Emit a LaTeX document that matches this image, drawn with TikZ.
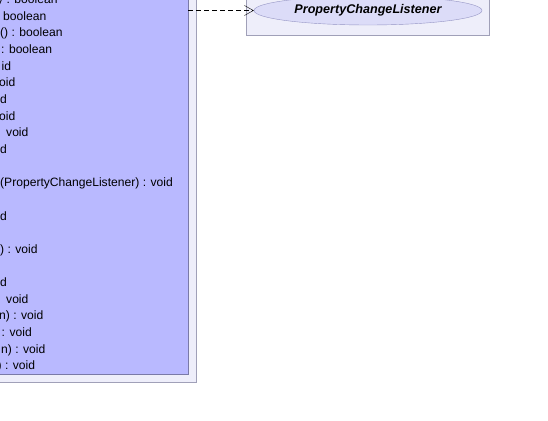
\documentclass[tikz,border=0pt]{standalone}
\usepackage{fontspec}
\setmainfont{Liberation Sans}
\usepackage{xcolor}
\usetikzlibrary{arrows.meta,shapes.geometric}

\definecolor{pkgfill}{HTML}{EEEEFA}
\definecolor{pkgline}{HTML}{A0A0B8}
\definecolor{clsfill}{HTML}{B9B9FF}
\definecolor{clsline}{HTML}{7A7AA8}
\definecolor{ifcfill}{HTML}{DCDCF8}
\definecolor{ifcline}{HTML}{9494C4}

\tikzset{
  member/.style={anchor=base west, inner sep=0pt, font=\fontsize{12.1}{14}\selectfont},
  realize/.style={dashed, dash pattern=on 5pt off 3pt, -{Straight Barb[length=9pt,width=10pt]}}
}

\begin{document}
\begin{tikzpicture}[x=1pt,y=-1pt]
        \useasboundingbox (0,0) rectangle (548,420);
        \clip (0,0) rectangle (548,420);

        % Class package, left side
        \draw[pkgline, fill=pkgfill] (-20,-20) rectangle (196,382);
        \node[draw=clsline, fill=clsfill, inner sep=0pt, minimum width=208pt, minimum height=394pt, anchor=north west]
             (cls) at (-20,-20) {};

        % Members (cut at the left edge)
        \node[member] (m0)  at (-3,3.5)    {y : boolean};
        \node[member] (m1)  at (3,20.2)    {boolean};
        \node[member] (m2)  at (0,36.8)    {() : boolean};
        \node[member] (m3)  at (1,53.5)    {: boolean};
        \node[member] (m4)  at (1.5,70.1)  {id};
        \node[member] (m5)  at (-1,86.8)   {oid};
        \node[member] (m6)  at (0,103.4)   {d};
        \node[member] (m7)  at (-1,120.1)  {oid};
        \node[member] (m8)  at (6,136.7)   {void};
        \node[member] (m9)  at (0,153.4)   {d};
        \node[member] (m11) at (0,186.7)   {(PropertyChangeListener) : void};
        \node[member] (m13) at (0,220.0)   {d};
        \node[member] (m15) at (0,253.3)   {) : void};
        \node[member] (m17) at (0,286.6)   {d};
        \node[member] (m18) at (6,303.2)   {void};
        \node[member] (m19) at (-1,319.9)  {n) : void};
        \node[member] (m20) at (1.5,336.5) {: void};
        \node[member] (m21) at (1,353.2)   {n) : void};
        \node[member] (m22) at (-2.5,369.8) {) : void};

        % Interface package, top right
        \draw[pkgline, fill=pkgfill] (246,-20) rectangle (489,35);
        \node[ellipse, draw=ifcline, fill=ifcfill, minimum width=228pt, minimum height=29pt, inner sep=0pt,
              font=\fontsize{12.6}{14}\selectfont\bfseries\itshape] (lis) at (368,10.5) {PropertyChangeListener};

        % Realization
        \draw[realize] (cls.east |- lis) -- (lis.west);
    \end{tikzpicture}
\end{document}
